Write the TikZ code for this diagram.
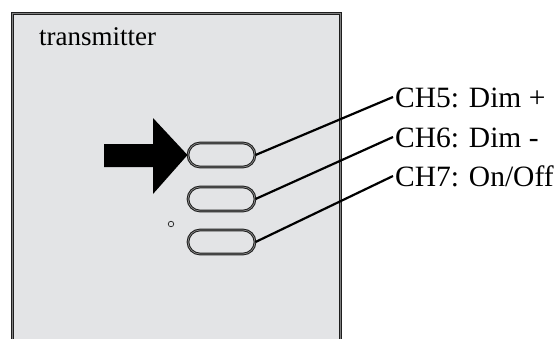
\documentclass[tikz,border=0pt]{standalone}
\usepackage{fontspec}
\setmainfont{Liberation Serif}
\definecolor{panel}{HTML}{E3E4E6}
\definecolor{edge}{HTML}{1E1E1E}
\begin{document}
\begin{tikzpicture}[x=1pt,y=-1pt,
  button/.style={draw=edge, double=black!45, line width=1pt, double distance=0.7pt,
    rounded corners=12pt, minimum width=67pt, minimum height=24pt, inner sep=0pt},
  label/.style={anchor=base west, inner xsep=2pt, inner ysep=0pt, text height=20pt, text depth=0pt,
    font=\fontsize{29.5}{29.5}\selectfont},
  wire/.style={line width=2.2pt, black}]
\useasboundingbox (0,0) rectangle (557,338);
\fill[panel] (12,13) rectangle (340,340);
\draw[edge, double=black!50, line width=1.1pt, double distance=0.8pt] (12,340) -- (12,13) -- (340,13) -- (340,340);
\node[anchor=base west, inner sep=0pt, font=\fontsize{27}{27}\selectfont] (title) at (39,45) {transmitter};
\node[button] (b1) at (221.5,155) {};
\node[button] (b2) at (221.5,199) {};
\node[button] (b3) at (221.5,242) {};
\node[label] (l1) at (393,107) {CH5: Dim +};
\node[label] (l2) at (393,147) {CH6: Dim -};
\node[label] (l3) at (393,186) {CH7: On/Off};
\draw[wire] (b1.east) -- (l1.west);
\draw[wire] (b2.east) -- (l2.west);
\draw[wire] (b3.east) -- (l3.west);
\coordinate (tip) at (b1.west);
\fill[black] (104,144) -- (153,144) -- (153,118) -- (tip) -- (153,194) -- (153,167) -- (104,167) -- cycle;
\node[circle, draw=edge, line width=0.7pt, minimum size=5.5pt, inner sep=0pt] (led) at (171,224) {};
\end{tikzpicture}
\end{document}
